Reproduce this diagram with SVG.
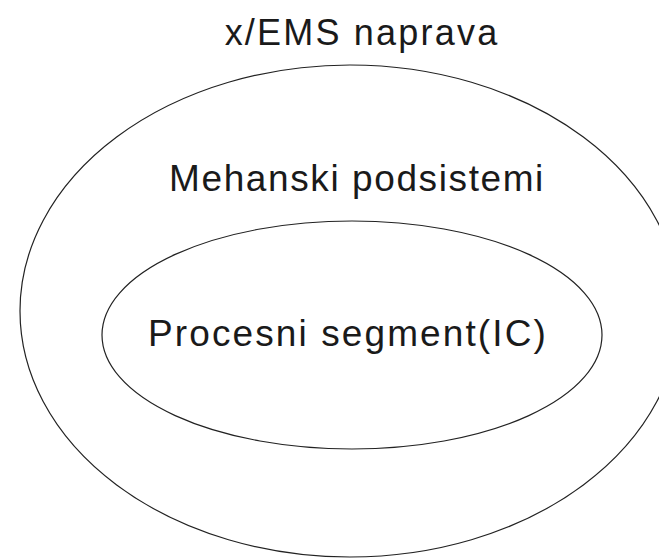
<svg xmlns="http://www.w3.org/2000/svg" width="659" height="558" viewBox="0 0 659 558">
  <style>
    .ring { fill: none; stroke: #222; stroke-width: 1.2; }
    .label { font-family: "Liberation Sans", Arial, sans-serif; fill: #1a1a1a; text-anchor: middle; }
  </style>
  <rect width="659" height="558" fill="#fff"/>
  <g id="device">
    <ellipse class="ring" cx="350" cy="311" rx="330" ry="246"/>
    <text class="label" x="362" y="45" font-size="36" letter-spacing="2.2">x/EMS naprava</text>
  </g>
  <g id="mechanical">
    <text class="label" x="357" y="191" font-size="37" letter-spacing="1.6">Mehanski podsistemi</text>
  </g>
  <g id="process">
    <ellipse class="ring" cx="352" cy="335" rx="250" ry="114"/>
    <text class="label" x="348" y="346" font-size="37" letter-spacing="2.1">Procesni segment(IC)</text>
  </g>
  <g id="connectors"/>
</svg>
